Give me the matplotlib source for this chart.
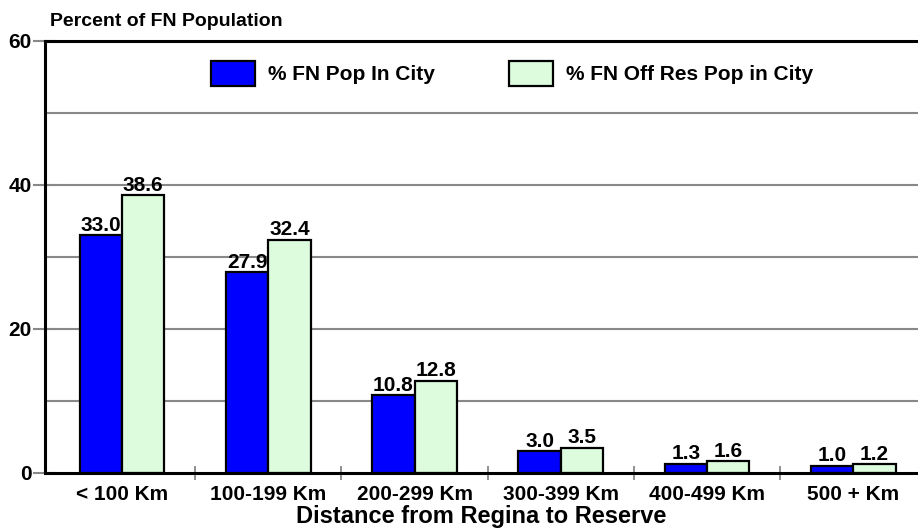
import numpy as np
import matplotlib.pyplot as plt

# datos del grafico
categorias = ["< 100 Km", "100-199 Km", "200-299 Km", "300-399 Km", "400-499 Km", "500 + Km"]
pop_ciudad = [33.0, 27.9, 10.8, 3.0, 1.3, 1.0]
pop_fuera_res = [38.6, 32.4, 12.8, 3.5, 1.6, 1.2]
serie1 = "% FN Pop In City"
serie2 = "% FN Off Res Pop in City"

plt.rcParams['font.family'] = ['Liberation Sans', 'DejaVu Sans']
plt.rcParams['font.weight'] = 'bold'

fig = plt.figure(figsize=(9.18, 5.31), dpi=100)
ax = fig.add_axes([45 / 918, 58 / 531, 873 / 918, 432 / 531])

x = np.arange(len(categorias))
ancho = 0.29
b1 = ax.bar(x - ancho / 2, pop_ciudad, ancho, color='#0000ff', edgecolor='black', linewidth=1.6, label=serie1, zorder=3)
b2 = ax.bar(x + ancho / 2, pop_fuera_res, ancho, color='#ddfcdd', edgecolor='black', linewidth=1.6, label=serie2, zorder=3)

# etiquetas de valores
for barras in (b1, b2):
    for r in barras:
        ax.text(r.get_x() + r.get_width() / 2, r.get_height() + 0.05, f"{r.get_height():.1f}",
                ha='center', va='bottom', fontsize=15, fontweight='bold', zorder=5)

ax.set_xlim(-0.527, 5.443)
ax.set_ylim(0, 60)

# lineas de grilla
for g in [10, 20, 30, 40, 50]:
    ax.axhline(g, color='#888888', linewidth=1.5, zorder=1)

ax.set_yticks([0, 20, 40, 60])
ax.set_yticklabels(["0", "20", "40", "60"], fontsize=15, fontweight='bold')
ax.tick_params(axis='y', length=17, width=1.5, color='#888888', direction='inout', pad=1)

ax.set_xticks(x)
ax.set_xticklabels(categorias, fontsize=15, fontweight='bold')
ax.tick_params(axis='x', length=0, pad=9)
# marcas entre categorias
ax.set_xticks(np.arange(len(categorias) - 1) + 0.5, minor=True)
ax.tick_params(axis='x', which='minor', length=10, width=1.3, color='#888888', direction='inout')

for lado in ['left', 'bottom', 'top']:
    ax.spines[lado].set_linewidth(2.2)
    ax.spines[lado].set_color('black')
    ax.spines[lado].set_zorder(4)
ax.spines['right'].set_visible(False)

ax.set_xlabel("Distance from Regina to Reserve", fontsize=17, fontweight='bold', labelpad=0)
fig.text(50 / 918, 1 - 21 / 531, "Percent of FN Population", fontsize=14, fontweight='bold', ha='left', va='center')

ley = ax.legend(ncol=2, loc='upper left', bbox_to_anchor=(211 / 918, 1 - 61 / 531), bbox_transform=fig.transFigure,
                frameon=False, fontsize=15, handlelength=2.1, handleheight=1.44, columnspacing=3.55,
                handletextpad=0.65, borderpad=0, borderaxespad=0)
for p in ley.get_patches():
    p.set_linewidth(1.6)

fig.savefig("out.png", dpi=100)
